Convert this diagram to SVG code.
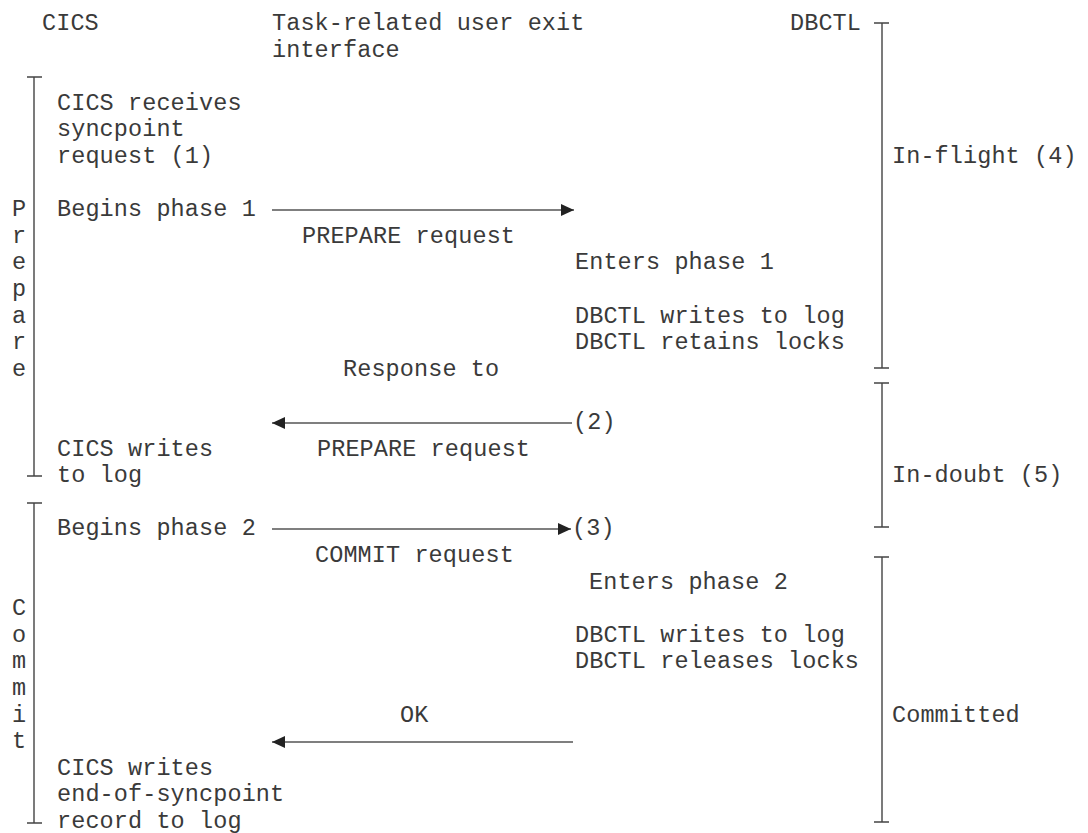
<svg xmlns="http://www.w3.org/2000/svg" width="1088" height="833" viewBox="0 0 1088 833">
<style>
text{font-family:"Liberation Mono","DejaVu Sans Mono",monospace;font-size:23.5px;fill:#3a3a3a;letter-spacing:0.1px}
.v{text-anchor:middle}
.br{stroke:#444;stroke-width:1.4;fill:none}
.ln{stroke:#555;stroke-width:1.5;fill:none}
</style>
<defs>
<marker id="ah" viewBox="0 0 13 12" refX="13" refY="6" markerWidth="13" markerHeight="12" markerUnits="userSpaceOnUse" orient="auto">
<path d="M0,0 L13,6 L0,12 Z" fill="#222"/>
</marker>
</defs>
<rect width="1088" height="833" fill="#fff"/>
<g id="headers">
<text x="42" y="30">CICS</text>
<text x="272" y="30">Task-related user exit</text>
<text x="272" y="56.6">interface</text>
<text x="790" y="30">DBCTL</text>
</g>
<g id="prepare-bracket">
<path class="br" d="M27,77 H42 M34,77 V476 M27,476 H42"/>
<text class="v" x="19" y="216.2">P</text>
<text class="v" x="19" y="242.8">r</text>
<text class="v" x="19" y="269.4">e</text>
<text class="v" x="19" y="296">p</text>
<text class="v" x="19" y="322.6">a</text>
<text class="v" x="19" y="349.2">r</text>
<text class="v" x="19" y="375.8">e</text>
</g>
<g id="commit-bracket">
<path class="br" d="M27,503 H42 M34,503 V823 M27,823 H42"/>
<text class="v" x="19" y="615.2">C</text>
<text class="v" x="19" y="641.8">o</text>
<text class="v" x="19" y="668.4">m</text>
<text class="v" x="19" y="695">m</text>
<text class="v" x="19" y="721.6">i</text>
<text class="v" x="19" y="748.2">t</text>
</g>
<g id="cics-receives">
<text x="57" y="109.8">CICS receives</text>
<text x="57" y="136.4">syncpoint</text>
<text x="57" y="163">request (1)</text>
</g>
<g id="begins-phase1"><text x="57" y="216.2">Begins phase 1</text></g>
<g id="cics-writes-log">
<text x="57" y="455.6">CICS writes</text>
<text x="57" y="482.2">to log</text>
</g>
<g id="begins-phase2"><text x="57" y="535.4">Begins phase 2</text></g>
<g id="cics-writes-end">
<text x="57" y="774.8">CICS writes</text>
<text x="57" y="801.4">end-of-syncpoint</text>
<text x="57" y="828">record to log</text>
</g>
<g id="enters-phase1"><text x="575" y="269.4">Enters phase 1</text></g>
<g id="dbctl-writes1">
<text x="575" y="322.6">DBCTL writes to log</text>
<text x="575" y="349.2">DBCTL retains locks</text>
</g>
<g id="enters-phase2"><text x="589" y="588.6">Enters phase 2</text></g>
<g id="dbctl-writes2">
<text x="575" y="641.8">DBCTL writes to log</text>
<text x="575" y="668.4">DBCTL releases locks</text>
</g>
<g id="dbctl-states">
<path class="br" d="M874,23 H889 M882,23 V368 M874,368 H889"/>
<text x="892" y="163">In-flight (4)</text>
<path class="br" d="M874,383 H889 M882,383 V527 M874,527 H889"/>
<text x="892" y="482.2">In-doubt (5)</text>
<path class="br" d="M874,557 H889 M882,557 V822 M874,822 H889"/>
<text x="892" y="721.6">Committed</text>
</g>
<g id="connectors">
<line class="ln" x1="272" y1="210" x2="574" y2="210" marker-end="url(#ah)"/>
<text x="302" y="242.8">PREPARE request</text>
<text x="343" y="375.8">Response to</text>
<line class="ln" x1="572" y1="423" x2="272" y2="423" marker-end="url(#ah)"/>
<text x="573" y="429">(2)</text>
<text x="317" y="455.6">PREPARE request</text>
<line class="ln" x1="272" y1="529" x2="571" y2="529" marker-end="url(#ah)"/>
<text x="572" y="535.4">(3)</text>
<text x="315" y="562">COMMIT request</text>
<text x="400" y="721.6">OK</text>
<line class="ln" x1="573" y1="742" x2="272" y2="742" marker-end="url(#ah)"/>
</g>
</svg>
